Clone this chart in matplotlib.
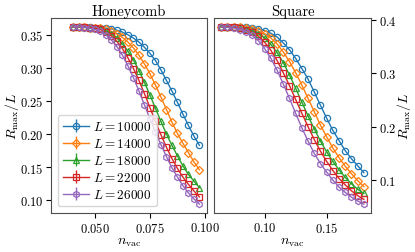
import numpy as np
import matplotlib
matplotlib.use("Agg")
import matplotlib.pyplot as plt

plt.rcParams["font.family"] = "serif"
plt.rcParams["font.serif"] = ["cmr10", "DejaVu Serif"]
plt.rcParams["mathtext.fontset"] = "cm"
plt.rcParams["axes.formatter.use_mathtext"] = True
plt.rcParams["font.size"] = 9

sizes = [10000, 14000, 18000, 22000, 26000]
markers = ["o", "D", "^", "s", "h"]
colors = ["#1f77b4", "#ff7f0e", "#2ca02c", "#d62728", "#9467bd"]

# honeycomb lattice
n_honey = [0.0400, 0.0425, 0.0450, 0.0475, 0.0500, 0.0525, 0.0550, 0.0575,
           0.0600, 0.0625, 0.0650, 0.0675, 0.0700, 0.0725, 0.0750, 0.0775,
           0.0800, 0.0825, 0.0850, 0.0875, 0.0900, 0.0925, 0.0950, 0.0975]
r_honey = [
    [0.362, 0.362, 0.362, 0.362, 0.361, 0.361, 0.360, 0.359, 0.357, 0.354, 0.350, 0.345,
     0.339, 0.331, 0.322, 0.311, 0.297, 0.281, 0.265, 0.248, 0.230, 0.213, 0.197, 0.183],
    [0.362, 0.362, 0.362, 0.361, 0.361, 0.360, 0.358, 0.355, 0.351, 0.346, 0.339, 0.330,
     0.319, 0.306, 0.291, 0.274, 0.256, 0.237, 0.218, 0.201, 0.186, 0.172, 0.158, 0.146],
    [0.362, 0.362, 0.362, 0.361, 0.360, 0.359, 0.356, 0.351, 0.345, 0.336, 0.325, 0.312,
     0.296, 0.278, 0.259, 0.239, 0.219, 0.200, 0.183, 0.167, 0.152, 0.139, 0.129, 0.119],
    [0.362, 0.362, 0.362, 0.361, 0.360, 0.358, 0.354, 0.348, 0.340, 0.329, 0.315, 0.299,
     0.281, 0.261, 0.240, 0.219, 0.199, 0.180, 0.163, 0.148, 0.135, 0.124, 0.114, 0.105],
    [0.362, 0.362, 0.361, 0.360, 0.358, 0.355, 0.350, 0.342, 0.332, 0.319, 0.303, 0.285,
     0.265, 0.244, 0.223, 0.203, 0.184, 0.166, 0.149, 0.135, 0.122, 0.111, 0.102, 0.094],
]

# square lattice
n_square = [0.065, 0.070, 0.075, 0.080, 0.085, 0.090, 0.095, 0.100,
            0.105, 0.110, 0.115, 0.120, 0.125, 0.130, 0.135, 0.140,
            0.145, 0.150, 0.155, 0.160, 0.165, 0.170, 0.175, 0.180]
r_square = [
    [0.387, 0.387, 0.387, 0.386, 0.386, 0.385, 0.383, 0.380, 0.375, 0.368, 0.357, 0.344,
     0.328, 0.309, 0.289, 0.265, 0.240, 0.216, 0.193, 0.174, 0.155, 0.140, 0.127, 0.114],
    [0.387, 0.387, 0.386, 0.386, 0.385, 0.383, 0.379, 0.374, 0.366, 0.355, 0.340, 0.322,
     0.301, 0.278, 0.253, 0.228, 0.203, 0.181, 0.160, 0.142, 0.126, 0.112, 0.099, 0.088],
    [0.387, 0.387, 0.386, 0.385, 0.383, 0.380, 0.374, 0.366, 0.354, 0.339, 0.320, 0.297,
     0.272, 0.246, 0.220, 0.196, 0.173, 0.153, 0.135, 0.119, 0.105, 0.093, 0.083, 0.075],
    [0.387, 0.387, 0.386, 0.385, 0.382, 0.377, 0.369, 0.358, 0.343, 0.324, 0.301, 0.277,
     0.251, 0.225, 0.200, 0.176, 0.154, 0.135, 0.118, 0.103, 0.091, 0.080, 0.071, 0.064],
    [0.387, 0.386, 0.385, 0.382, 0.378, 0.371, 0.361, 0.346, 0.328, 0.306, 0.280, 0.253,
     0.225, 0.198, 0.173, 0.150, 0.131, 0.115, 0.100, 0.087, 0.077, 0.068, 0.061, 0.055],
]

fig = plt.figure(figsize=(4.15, 2.53), dpi=100)
ax1 = fig.add_axes([0.123, 0.154, 0.376, 0.771])
ax2 = fig.add_axes([0.516, 0.154, 0.378, 0.771])

for ax, xs, ys in [(ax1, n_honey, r_honey), (ax2, n_square, r_square)]:
    for L, m, c, y in zip(sizes, markers, colors, ys):
        ax.errorbar(xs, y, yerr=np.zeros(len(y)), marker=m, color=c, ms=4.5,
                    mfc="none", mew=0.9, lw=1.0, label=f"$L = {L}$")

ax1.set_title("Honeycomb", fontsize=10.5, pad=2)
ax2.set_title("Square", fontsize=10.5, pad=2)
ax1.set_xlim(0.030, 0.101)
ax1.set_xticks([0.050, 0.075, 0.100])
ax1.set_yticks([0.10, 0.15, 0.20, 0.25, 0.30, 0.35])
ax1.set_xlabel(r"$n_{\rm vac}$", fontsize=10, labelpad=1)
ax1.legend(loc="lower left", fontsize=9.5, handlelength=2.0, borderpad=0.4,
           labelspacing=0.3, handletextpad=0.3)

ax2.set_xticks([0.10, 0.15])
ax2.set_yticks([0.1, 0.2, 0.3, 0.4])
ax2.yaxis.tick_right()
ax2.yaxis.set_label_position("right")
ax2.set_xlabel(r"$n_{\rm vac}$", fontsize=10, labelpad=1)

for ax in (ax1, ax2):
    ax.tick_params(labelsize=9, pad=2)
    ax.set_ylabel(r"$R_{\max}/L$", fontsize=10)
    for s in ax.spines.values():
        s.set_color("0.3")

ax1.yaxis.set_label_coords(-0.19, 0.5)
ax2.yaxis.set_label_coords(1.15, 0.5)

fig.savefig("out.png", dpi=100)
